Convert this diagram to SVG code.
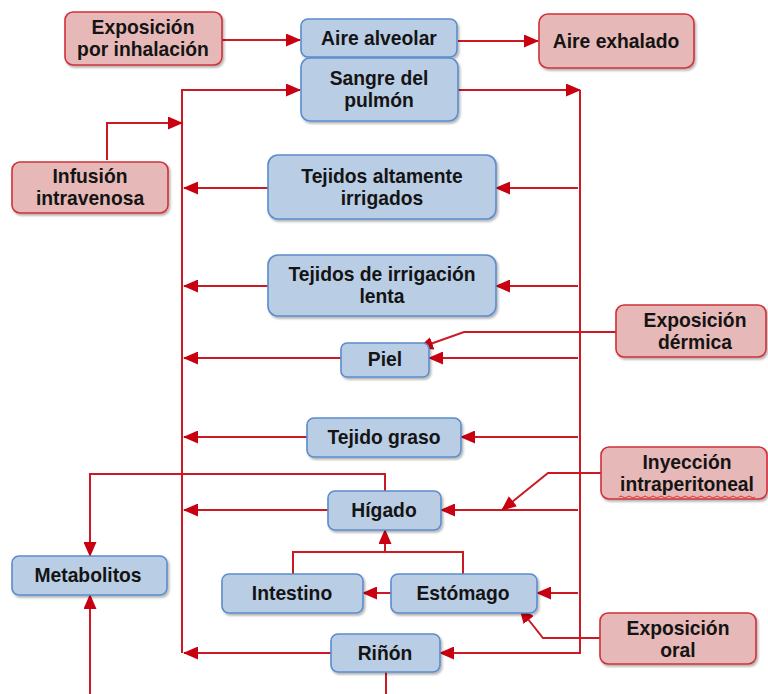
<svg xmlns="http://www.w3.org/2000/svg" width="768" height="694" viewBox="0 0 768 694">
<defs>
<marker id="ah" markerUnits="userSpaceOnUse" markerWidth="15" markerHeight="13" refX="14" refY="6.5" orient="auto">
<path d="M0,0 L15,6.5 L0,13 Z" fill="#c8000f"/>
</marker>
<filter id="sh" x="-10%" y="-10%" width="125%" height="135%">
<feDropShadow dx="1.5" dy="2" stdDeviation="1.2" flood-color="#000" flood-opacity="0.3"/>
</filter>
<style>
.b rect{fill:#b9cde5;stroke:#5b8ccc;stroke-width:1.6;filter:url(#sh)}
.r rect{fill:#e6b8b7;stroke:#d0303a;stroke-width:1.6;filter:url(#sh)}
text{font-family:"Liberation Sans",Arial,sans-serif;font-weight:bold;font-size:19.3px;fill:#141414;text-anchor:middle}
#conn path{fill:none;stroke:#cc1a24;stroke-width:2}
.a{marker-end:url(#ah)}
</style>
</defs>
<rect width="768" height="694" fill="#fff"/>
<g id="conn">
<path class="a" d="M222,40 H300"/>
<path class="a" d="M458,41 H538"/>
<path class="a" d="M182,653 V90 H300"/>
<path class="a" d="M107,160 V123 H182"/>
<path class="a" d="M458,90 H580"/>
<path class="a" d="M580,90 V653 H440"/>
<path class="a" d="M578,188 H496"/>
<path class="a" d="M578,286 H496"/>
<path class="a" d="M578,358 H429"/>
<path class="a" d="M578,437 H461"/>
<path class="a" d="M578,510 H441"/>
<path class="a" d="M578,593 H537"/>
<path class="a" d="M268,188 H184"/>
<path class="a" d="M268,286 H184"/>
<path class="a" d="M341,358 H184"/>
<path class="a" d="M307,437 H184"/>
<path class="a" d="M328,510 H184"/>
<path class="a" d="M331,653 H184"/>
<path class="a" d="M616,332 H464 L419,348"/>
<path class="a" d="M601,473 H548 L502,510"/>
<path class="a" d="M600,638 H543 L520,609"/>
<path class="a" d="M391,593 H363"/>
<path d="M293,574 V552 H463 V574"/>
<path class="a" d="M385,552 V530"/>
<path class="a" d="M385,491 V474 H90 V556"/>
<path class="a" d="M90,694 V595"/>
<path d="M386,672 V694"/>
</g>
<g id="inhalacion" class="r"><rect x="65" y="12" width="157" height="53" rx="8"/><text x="143" y="34">Exposición</text><text x="143" y="56">por inhalación</text></g>
<g id="aire_alveolar" class="b"><rect x="301" y="19" width="156" height="38" rx="7"/><text x="379" y="45">Aire alveolar</text></g>
<g id="aire_exhalado" class="r"><rect x="539" y="14" width="155" height="54" rx="9"/><text x="616" y="48">Aire exhalado</text></g>
<g id="sangre" class="b"><rect x="301" y="58" width="157" height="63" rx="9"/><text x="379" y="85">Sangre del</text><text x="379" y="107">pulmón</text></g>
<g id="infusion" class="r"><rect x="12" y="162" width="156" height="51" rx="8"/><text x="90" y="183">Infusión</text><text x="90" y="205">intravenosa</text></g>
<g id="tejidos_alt" class="b"><rect x="268" y="155" width="228" height="64" rx="10"/><text x="382" y="183">Tejidos altamente</text><text x="382" y="205">irrigados</text></g>
<g id="tejidos_lenta" class="b"><rect x="268" y="255" width="228" height="61" rx="10"/><text x="382" y="281">Tejidos de irrigación</text><text x="382" y="303">lenta</text></g>
<g id="dermica" class="r"><rect x="616" y="305" width="150" height="52" rx="8"/><text x="695" y="327">Exposición</text><text x="695" y="349">dérmica</text></g>
<g id="piel" class="b"><rect x="341" y="343" width="88" height="34" rx="6"/><text x="385" y="366">Piel</text></g>
<g id="graso" class="b"><rect x="307" y="418" width="154" height="39" rx="7"/><text x="384" y="444">Tejido graso</text></g>
<g id="intraperitoneal" class="r"><rect x="601" y="447" width="166" height="52" rx="8"/><text x="687" y="469">Inyección</text><text x="687" y="491">intraperitoneal</text><path d="M619,497 q2,-2 4,0 t4,0 t4,0 t4,0 t4,0 t4,0 t4,0 t4,0 t4,0 t4,0 t4,0 t4,0 t4,0 t4,0 t4,0 t4,0 t4,0 t4,0 t4,0 t4,0 t4,0 t4,0 t4,0 t4,0 t4,0 t4,0 t4,0 t4,0 t4,0 t4,0 t4,0 t4,0 t4,0 t4,0" fill="none" stroke="#e03030" stroke-width="1"/></g>
<g id="higado" class="b"><rect x="328" y="491" width="113" height="39" rx="7"/><text x="384" y="517">Hígado</text></g>
<g id="metabolitos" class="b"><rect x="12" y="556" width="155" height="39" rx="7"/><text x="88" y="582">Metabolitos</text></g>
<g id="intestino" class="b"><rect x="222" y="574" width="141" height="39" rx="7"/><text x="292" y="600">Intestino</text></g>
<g id="estomago" class="b"><rect x="391" y="574" width="146" height="39" rx="7"/><text x="463" y="600">Estómago</text></g>
<g id="oral" class="r"><rect x="600" y="613" width="156" height="51" rx="8"/><text x="678" y="635">Exposición</text><text x="678" y="657">oral</text></g>
<g id="rinon" class="b"><rect x="331" y="634" width="109" height="38" rx="7"/><text x="385" y="660">Riñón</text></g>
</svg>
